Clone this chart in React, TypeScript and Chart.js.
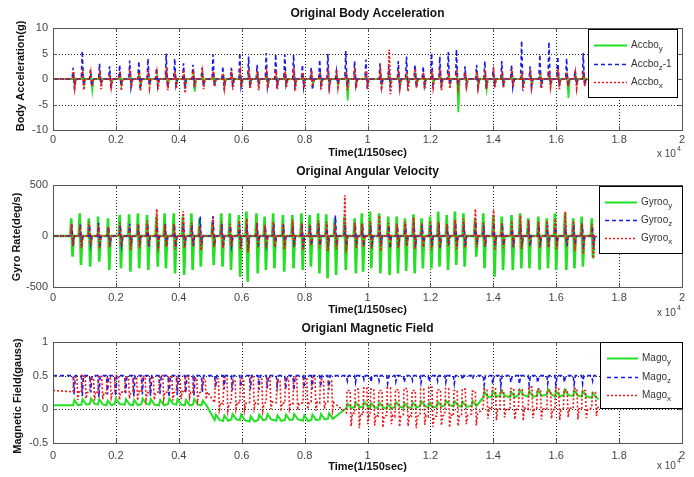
import React, { useEffect, useRef } from "react";
import { Chart, registerables } from "chart.js";
Chart.register(...registerables);

const FONT = '"Liberation Sans", Arial, Helvetica, sans-serif';
const GREEN = "#22e022";
const BLUE = "#1a1ae8";
const RED = "#f01818";

// shared x axis (x 10^4 samples)
const xTickValues = [0, 0.2, 0.4, 0.6, 0.8, 1, 1.2, 1.4, 1.6, 1.8, 2];
const xTickLabels = ["0", "0.2", "0.4", "0.6", "0.8", "1", "1.2", "1.4", "1.6", "1.8", "2"];

// ---------- Original Body Acceleration ----------
const accTicks = [-10, -5, 0, 5, 10];
const accTickLabels = ["-10", "-5", "0", "5", "10"];
const accTime = [0.064, 0.093, 0.119, 0.148, 0.180, 0.212, 0.244, 0.273, 0.302, 0.329,
  0.360, 0.387, 0.415, 0.445, 0.474, 0.509, 0.540, 0.567, 0.594, 0.622,
  0.649, 0.678, 0.708, 0.737, 0.765, 0.793, 0.821, 0.848, 0.874, 0.901,
  0.931, 0.959, 0.995, 1.040, 1.068, 1.098, 1.124, 1.151, 1.177, 1.204,
  1.230, 1.257, 1.283, 1.310, 1.347, 1.373, 1.400, 1.427, 1.458, 1.490,
  1.517, 1.548, 1.577, 1.605, 1.633, 1.660, 1.686];
const accYUp = [0.6, 0.9, 0.5, 0.8, 0.4, 0.7, 0.6, 0.9, 0.5, 0.7, 0.8, 0.6, 0.5, 0.9, 0.7, 0.4, 0.6, 0.8, 0.5, 0.7,
  0.9, 0.6, 0.5, 0.8, 0.7, 0.4, 0.6, 0.9, 0.5, 0.7, 0.8, 0.6, 0.5, 0.7, 0.9, 0.6, 0.5, 0.8, 0.4, 0.7,
  0.6, 0.9, 0.5, 0.7, 0.8, 0.6, 0.5, 0.7, 0.9, 0.6, 0.5, 0.8, 0.6, 0.7, 0.5, 0.6, 0.8];
const accYDown = [-0.8, -1.0, -2.2, -0.7, -0.9, -1.1, -0.8, -1.2, -0.9, -0.7, -1.0, -0.8, -1.1, -2.5, -0.9, -0.7, -1.0, -0.8, -1.2, -0.9,
  -0.7, -1.0, -0.8, -0.9, -1.1, -0.7, -1.0, -0.8, -0.9, -1.2, -4.2, -0.8, -1.0, -0.9, -0.7, -1.1, -0.8, -1.0, -0.9, -0.7,
  -1.0, -0.8, -6.5, -0.9, -1.1, -2.0, -0.8, -1.0, -0.7, -0.9, -1.1, -0.8, -1.0, -0.9, -3.7, -0.8, -0.7];
const accZUp = [2.2, 5.5, 1.8, 3.0, 2.5, 2.8, 3.6, 3.5, 4.0, 2.2, 5.0, 4.0, 3.1, 2.8, 2.2, 4.8, 2.5, 2.2, 5.1, 4.4,
  2.8, 5.1, 4.9, 4.8, 4.8, 2.8, 2.2, 3.8, 4.9, 1.5, 5.5, 3.5, 3.8, 3.1, 2.6, 3.5, 4.4, 2.8, 2.5, 5.1,
  4.4, 5.3, 5.8, 2.5, 2.8, 3.5, 2.2, 3.5, 2.8, 7.5, 2.5, 4.8, 7.3, 4.4, 4.1, 1.8, 5.1];
const accZDown = [-2.0, -1.2, -1.5, -1.0, -1.8, -1.3, -1.6, -2.0, -1.1, -1.4, -1.6, -1.2, -1.9, -1.0, -1.3, -1.5, -2.2, -1.1, -1.4, -1.7,
  -1.2, -1.5, -1.8, -1.1, -1.3, -1.6, -2.1, -1.2, -1.5, -1.0, -1.4, -1.3, -1.8, -2.0, -1.2, -1.5, -1.1, -1.7, -1.3, -1.0,
  -1.6, -1.2, -1.4, -1.1, -1.5, -1.8, -1.0, -1.3, -1.6, -1.2, -1.4, -1.7, -1.1, -1.3, -1.5, -1.0, -1.2];
const accXUp = [1.5, 2.0, 1.2, 1.8, 1.0, 1.6, 2.2, 1.4, 1.9, 1.2, 2.4, 1.5, 1.8, 2.0, 1.3, 1.6, 1.1, 1.8, 1.4, 2.0,
  1.6, 1.2, 1.9, 1.5, 2.1, 1.3, 1.7, 1.4, 1.2, 1.8, 1.5, 2.2, 1.6, 1.4, 5.8, 1.7, 1.5, 2.0, 1.3, 1.8,
  2.2, 1.6, 1.9, 1.2, 1.5, 1.8, 1.4, 1.6, 2.1, 1.5, 1.8, 1.3, 1.7, 2.0, 1.4, 1.2, 1.6];
const accXDown = [-1.8, -2.2, -1.5, -2.0, -1.6, -2.3, -1.8, -2.4, -1.7, -2.0, -2.2, -1.9, -2.8, -1.6, -2.0, -1.5, -1.8, -2.1, -1.6, -1.9,
  -2.2, -1.7, -2.0, -1.6, -2.4, -1.8, -1.5, -2.0, -1.7, -1.6, -2.2, -1.8, -2.0, -1.6, -3.0, -1.8, -2.5, -1.7, -2.0, -1.6,
  -2.2, -1.9, -1.8, -1.5, -1.7, -2.0, -1.6, -1.8, -1.5, -2.3, -1.7, -1.9, -1.6, -2.0, -1.5, -1.8, -1.4];
const accEnd = 1.70;

// ---------- Original Angular Velocity ----------
const gyroTicks = [-500, 0, 500];
const gyroTickLabels = ["-500", "0", "500"];
const gyroTime = [0.058, 0.085, 0.114, 0.143, 0.175, 0.212, 0.242, 0.270, 0.299, 0.329,
  0.355, 0.384, 0.413, 0.440, 0.466, 0.507, 0.535, 0.562, 0.591, 0.615,
  0.647, 0.673, 0.700, 0.731, 0.761, 0.790, 0.816, 0.843, 0.869, 0.896,
  0.927, 0.959, 0.982, 1.008, 1.037, 1.066, 1.093, 1.119, 1.146, 1.172,
  1.199, 1.225, 1.252, 1.278, 1.305, 1.342, 1.368, 1.400, 1.427, 1.458,
  1.485, 1.511, 1.543, 1.570, 1.596, 1.628, 1.654, 1.681, 1.713];
const gyroYUp = [173, 222, 173, 190, 173, 206, 212, 222, 206, 190, 222, 222, 190, 222, 173, 140, 222, 222, 206, 239,
  222, 190, 222, 206, 206, 222, 206, 222, 212, 173, 190, 173, 222, 239, 222, 190, 190, 173, 212, 173,
  190, 239, 206, 239, 222, 173, 222, 206, 190, 206, 222, 173, 190, 173, 222, 222, 173, 190, 173];
const gyroYDown = [-203, -284, -301, -252, -333, -317, -350, -317, -333, -301, -317, -366, -382, -333, -301, -284, -301, -333, -399, -448,
  -366, -333, -317, -350, -317, -333, -301, -366, -415, -382, -333, -366, -350, -317, -366, -382, -366, -343, -366, -317,
  -317, -301, -333, -284, -301, -203, -317, -399, -333, -333, -317, -317, -333, -317, -333, -333, -317, -301, -219];
const gyroZUp = [110, 120, 100, 130, 90, 110, 120, 100, 115, 95, 120, 105, 125, 110, 190, 195, 120, 100, 115, 110,
  125, 95, 120, 110, 105, 115, 100, 125, 110, 200, 115, 105, 120, 110, 120, 100, 95, 115, 125, 105,
  110, 120, 100, 130, 115, 140, 105, 120, 110, 100, 115, 125, 105, 110, 120, 100, 115, 105, 95];
const gyroZDown = [-90, -100, -80, -110, -95, -85, -100, -90, -105, -80, -95, -110, -90, -100, -85, -95, -110, -90, -100, -120,
  -95, -85, -105, -90, -100, -110, -85, -95, -100, -90, -105, -95, -100, -110, -95, -120, -100, -90, -105, -95,
  -100, -110, -90, -100, -95, -85, -105, -100, -90, -110, -95, -100, -90, -105, -95, -100, -90, -85, -80];
const gyroXUp = [120, 100, 140, 110, 90, 130, 100, 120, 150, 265, 110, 120, 245, 130, 100, 180, 140, 120, 150, 170,
  130, 110, 140, 120, 160, 130, 110, 150, 140, 120, 400, 130, 120, 150, 200, 130, 120, 140, 180, 130,
  150, 140, 120, 160, 170, 265, 140, 255, 130, 150, 200, 160, 140, 150, 170, 240, 150, 130, 120];
const gyroXDown = [-100, -120, -90, -130, -110, -100, -140, -120, -100, -150, -110, -130, -120, -100, -140, -110, -120, -100, -130, -160,
  -110, -120, -100, -130, -110, -140, -100, -120, -150, -130, -160, -120, -110, -130, -150, -110, -120, -100, -130, -110,
  -140, -120, -100, -130, -120, -110, -100, -140, -120, -110, -130, -100, -120, -110, -130, -100, -150, -180, -220];
const gyroEnd = 1.725;

// ---------- Origianl Magnetic Field ----------
const magTicks = [-0.5, 0, 0.5, 1];
const magTickLabels = ["-0.5", "0", "0.5", "1"];
const magTime = [0.064, 0.090, 0.117, 0.143, 0.170, 0.196, 0.228, 0.254, 0.281, 0.307,
  0.337, 0.366, 0.392, 0.419, 0.445, 0.472, 0.514, 0.541, 0.567, 0.594,
  0.625, 0.652, 0.678, 0.710, 0.737, 0.763, 0.795, 0.821, 0.848, 0.874,
  0.933, 0.959, 0.986, 1.008, 1.034, 1.061, 1.087, 1.114, 1.140, 1.167,
  1.193, 1.220, 1.246, 1.273, 1.299, 1.331, 1.368, 1.395, 1.421, 1.453,
  1.480, 1.511, 1.538, 1.570, 1.596, 1.623, 1.654, 1.681, 1.713];
const magZLevel = 0.5;
const magZDip = [0.22, 0.20, 0.25, 0.18, 0.22, 0.20, 0.24, 0.19, 0.22, 0.20, 0.23, 0.18, 0.21, 0.24, 0.20, 0.26,
  0.32, 0.30, 0.28, 0.33, 0.30, 0.29, 0.31, 0.34, 0.30, 0.28, 0.32, 0.30, 0.33, 0.29,
  0.42, 0.40, 0.44,
  0.40, 0.42, 0.38, 0.41, 0.40, 0.43, 0.39, 0.41, 0.42, 0.40, 0.38, 0.44, 0.45,
  0.36, 0.38, 0.35, 0.40, 0.37, 0.36, 0.39, 0.38, 0.36, 0.40, 0.37, 0.38, 0.42];
const magXStart = 0.28;
const magXBase = [0.26, 0.25, 0.27, 0.25, 0.24, 0.26, 0.25, 0.27, 0.25, 0.24, 0.26, 0.25, 0.27, 0.25, 0.24, 0.26,
  0.10, 0.08, 0.11, 0.09, 0.10, 0.08, 0.11, 0.10, 0.09, 0.08, 0.10, 0.11, 0.09, 0.10,
  -0.05, -0.06, -0.08,
  -0.08, -0.10, -0.09, -0.11, -0.08, -0.10, -0.09, -0.11, -0.10, -0.08, -0.10, -0.09, -0.07,
  0.02, 0.00, 0.01, -0.01, 0.02, 0.00, 0.01, 0.00, -0.01, 0.02, 0.01, 0.00, 0.02];
const magXHigh = [0.48, 0.50, 0.46, 0.49, 0.47, 0.50, 0.48, 0.46, 0.49, 0.47, 0.50, 0.48, 0.46, 0.49, 0.47, 0.45,
  0.45, 0.47, 0.44, 0.46, 0.48, 0.45, 0.47, 0.44, 0.46, 0.48, 0.45, 0.47, 0.44, 0.42,
  0.28, 0.30, 0.32,
  0.30, 0.28, 0.32, 0.29, 0.31, 0.28, 0.30, 0.33, 0.29, 0.31, 0.28, 0.30, 0.27,
  0.30, 0.32, 0.28, 0.31, 0.29, 0.33, 0.30, 0.28, 0.32, 0.29, 0.31, 0.28, 0.25];
const magXLow = [0.14, 0.16, 0.13, 0.15, 0.17, 0.14, 0.16, 0.13, 0.15, 0.14, 0.16, 0.13, 0.15, 0.17, 0.14, 0.15,
  0.00, -0.02, 0.01, -0.01, 0.02, -0.02, 0.00, -0.03, 0.01, -0.01, 0.00, -0.02, 0.01, -0.01,
  -0.25, -0.28, -0.22,
  -0.24, -0.27, -0.22, -0.26, -0.25, -0.28, -0.23, -0.26, -0.24, -0.27, -0.25, -0.22, -0.24,
  -0.14, -0.16, -0.12, -0.15, -0.17, -0.13, -0.15, -0.14, -0.16, -0.12, -0.15, -0.13, -0.10];
const magXEndValue = 0.05;
const magYStart = 0.06;
const magYBase = [0.06, 0.07, 0.08, 0.07, 0.06, 0.08, 0.07, 0.06, 0.08, 0.07, 0.06, 0.08, 0.07, 0.06, 0.07, 0.06,
  -0.16, -0.17, -0.15, -0.16, -0.18, -0.16, -0.15, -0.17, -0.16, -0.15, -0.17, -0.16, -0.15, -0.14,
  0.02, 0.03, 0.04,
  0.02, 0.03, 0.01, 0.04, 0.02, 0.03, 0.05, 0.03, 0.04, 0.06, 0.05, 0.04, 0.05,
  0.18, 0.19, 0.20, 0.18, 0.21, 0.19, 0.20, 0.22, 0.19, 0.21, 0.20, 0.19, 0.17];
const magYPeak = [0.14, 0.15, 0.16, 0.15, 0.13, 0.16, 0.15, 0.14, 0.16, 0.15, 0.14, 0.16, 0.15, 0.14, 0.15, 0.13,
  -0.08, -0.09, -0.07, -0.08, -0.10, -0.08, -0.07, -0.09, -0.08, -0.07, -0.09, -0.08, -0.07, -0.06,
  0.08, 0.10, 0.11,
  0.09, 0.10, 0.08, 0.11, 0.09, 0.10, 0.12, 0.10, 0.11, 0.13, 0.12, 0.11, 0.12,
  0.26, 0.27, 0.28, 0.26, 0.29, 0.27, 0.28, 0.30, 0.27, 0.29, 0.28, 0.27, 0.24];
const magYEndValue = 0.15;
const magEnd = 1.735;

type P = { x: number; y: number };

function spikeSeries(times: number[], ups: number[], downs: number[], shift: number, end: number): P[] {
  const pts: P[] = [{ x: 0, y: 0 }];
  times.forEach((t, i) => {
    const s = t + shift;
    pts.push({ x: s - 0.003, y: 0 }, { x: s, y: ups[i] }, { x: s + 0.004, y: downs[i] }, { x: s + 0.008, y: 0 });
  });
  pts.push({ x: end, y: 0 });
  return pts;
}

function dipSeries(times: number[], level: number, dips: number[], end: number): P[] {
  const pts: P[] = [{ x: 0, y: level }];
  times.forEach((t, i) => {
    pts.push({ x: t, y: level }, { x: t + 0.003, y: dips[i] }, { x: t + 0.007, y: level });
  });
  pts.push({ x: end, y: level });
  return pts;
}

function pulseSeries(times: number[], start: number, base: number[], high: number[], low: number[], endVal: number, end: number): P[] {
  const pts: P[] = [{ x: 0, y: start }];
  times.forEach((t, i) => {
    pts.push(
      { x: t, y: base[i] }, { x: t + 0.002, y: high[i] }, { x: t + 0.012, y: high[i] },
      { x: t + 0.015, y: low[i] }, { x: t + 0.019, y: base[i] }
    );
  });
  pts.push({ x: end, y: endVal });
  return pts;
}

function sawSeries(times: number[], start: number, base: number[], peak: number[], endVal: number, end: number): P[] {
  const pts: P[] = [{ x: 0, y: start }];
  times.forEach((t, i) => {
    pts.push({ x: t, y: base[i] }, { x: t + 0.004, y: peak[i] }, { x: t + 0.016, y: base[i] });
  });
  pts.push({ x: end, y: endVal });
  return pts;
}

type Entry = { color: string; dash: number[]; width: number; name: string; sub: string; suffix?: string; y: number };
type Deco = {
  title: string; titleY: number; ylabel: string; ylabelX: number; ylabelY: number; timeY: number; expY: number;
  legend: { x: number; y: number; w: number; h: number; lx1: number; lx2: number; tx: number; entries: Entry[] };
};

function decoPlugin(d: Deco) {
  return {
    id: "deco",
    beforeDatasetsDraw(chart: any) {
      const { ctx, chartArea: a, scales } = chart;
      ctx.save();
      ctx.strokeStyle = "#222";
      ctx.lineWidth = 1;
      ctx.setLineDash([1, 2]);
      const xs = scales.x, ys = scales.y;
      xs.ticks.forEach((tk: any) => {
        if (tk.value <= xs.min || tk.value >= xs.max) return;
        const px = Math.round(xs.getPixelForValue(tk.value)) + 0.5;
        ctx.beginPath(); ctx.moveTo(px, a.top); ctx.lineTo(px, a.bottom); ctx.stroke();
      });
      ys.ticks.forEach((tk: any) => {
        if (tk.value <= ys.min || tk.value >= ys.max) return;
        const py = Math.round(ys.getPixelForValue(tk.value)) + 0.5;
        ctx.beginPath(); ctx.moveTo(a.left, py); ctx.lineTo(a.right, py); ctx.stroke();
      });
      ctx.restore();
    },
    afterDatasetsDraw(chart: any) {
      const { ctx, chartArea: a, scales } = chart;
      ctx.save();
      ctx.setLineDash([]);
      ctx.strokeStyle = "#555";
      ctx.lineWidth = 1;
      ctx.strokeRect(Math.round(a.left) + 0.5, Math.round(a.top) + 0.5, Math.round(a.right - a.left), Math.round(a.bottom - a.top));
      const xs = scales.x, ys = scales.y;
      ctx.beginPath();
      xs.ticks.forEach((tk: any) => {
        const px = Math.round(xs.getPixelForValue(tk.value)) + 0.5;
        ctx.moveTo(px, a.bottom); ctx.lineTo(px, a.bottom - 4);
        ctx.moveTo(px, a.top); ctx.lineTo(px, a.top + 4);
      });
      ys.ticks.forEach((tk: any) => {
        const py = Math.round(ys.getPixelForValue(tk.value)) + 0.5;
        ctx.moveTo(a.left, py); ctx.lineTo(a.left + 4, py);
        ctx.moveTo(a.right, py); ctx.lineTo(a.right - 4, py);
      });
      ctx.stroke();

      const L = d.legend;
      ctx.fillStyle = "#fff";
      ctx.fillRect(L.x, L.y, L.w, L.h);
      ctx.strokeStyle = "#000";
      ctx.strokeRect(L.x + 0.5, L.y + 0.5, L.w, L.h);
      L.entries.forEach((e) => {
        ctx.save();
        ctx.strokeStyle = e.color;
        ctx.lineWidth = e.width;
        ctx.setLineDash(e.dash);
        ctx.beginPath(); ctx.moveTo(L.lx1, e.y + 0.5); ctx.lineTo(L.lx2, e.y + 0.5); ctx.stroke();
        ctx.restore();
        ctx.fillStyle = "#333";
        ctx.textAlign = "left";
        ctx.textBaseline = "middle";
        ctx.font = `10px ${FONT}`;
        ctx.fillText(e.name, L.tx, e.y);
        let cx = L.tx + ctx.measureText(e.name).width;
        ctx.font = `8px ${FONT}`;
        ctx.fillText(e.sub, cx, e.y + 4);
        cx += ctx.measureText(e.sub).width;
        if (e.suffix) {
          ctx.font = `10px ${FONT}`;
          ctx.fillText(e.suffix, cx, e.y);
        }
      });

      const cxm = (a.left + a.right) / 2;
      ctx.fillStyle = "#111";
      ctx.textAlign = "center";
      ctx.textBaseline = "middle";
      ctx.font = `bold 12px ${FONT}`;
      ctx.fillText(d.title, cxm, d.titleY);
      ctx.font = `bold 11px ${FONT}`;
      ctx.fillText("Time(1/150sec)", cxm, d.timeY);
      ctx.fillStyle = "#444";
      ctx.textAlign = "left";
      ctx.font = `10px ${FONT}`;
      ctx.fillText("x 10", 657, d.expY);
      const w = ctx.measureText("x 10").width;
      ctx.font = `7px ${FONT}`;
      ctx.fillText("4", 657 + w + 1, d.expY - 5);
      ctx.save();
      ctx.fillStyle = "#111";
      ctx.translate(d.ylabelX, d.ylabelY);
      ctx.rotate(-Math.PI / 2);
      ctx.textAlign = "center";
      ctx.font = `bold 11px ${FONT}`;
      ctx.fillText(d.ylabel, 0, 0);
      ctx.restore();
      ctx.restore();
    },
  };
}

function makeConfig(datasets: any[], yTicks: number[], yLabels: string[], padTop: number, xScaleH: number, xPad: number, deco: Deco): any {
  return {
    type: "line",
    data: { datasets },
    options: {
      responsive: false,
      animation: false,
      events: [],
      layout: { padding: { top: padTop, right: 12, bottom: 0, left: 0 }, autoPadding: false },
      plugins: { legend: { display: false }, title: { display: false }, tooltip: { enabled: false } },
      elements: { point: { radius: 0 }, line: { tension: 0 } },
      scales: {
        x: {
          type: "linear", min: 0, max: 2,
          grid: { display: false, drawTicks: false },
          border: { display: false },
          afterBuildTicks: (s: any) => { s.ticks = xTickValues.map((v) => ({ value: v })); },
          afterFit: (s: any) => { s.height = xScaleH; },
          ticks: {
            autoSkip: false, maxRotation: 0, minRotation: 0, padding: xPad, color: "#444",
            font: { family: FONT, size: 11 },
            callback: (_v: any, i: number) => xTickLabels[i],
          },
        },
        y: {
          type: "linear", min: yTicks[0], max: yTicks[yTicks.length - 1],
          grid: { display: false, drawTicks: false },
          border: { display: false },
          afterBuildTicks: (s: any) => { s.ticks = yTicks.map((v) => ({ value: v })); },
          afterFit: (s: any) => { s.width = 53; },
          ticks: {
            autoSkip: false, padding: 5, color: "#444",
            font: { family: FONT, size: 11 },
            callback: (_v: any, i: number) => yLabels[i],
          },
        },
      },
    },
    plugins: [decoPlugin(deco)],
  };
}

function ds(data: P[], color: string, width: number, dash: number[], order: number) {
  return { data, borderColor: color, borderWidth: width, borderDash: dash, fill: false, pointRadius: 0, order, tension: 0 };
}

const DASH_B = [4, 3];
const DOT_R = [2, 2];

export default function App() {
  const r1 = useRef<HTMLCanvasElement>(null);
  const r2 = useRef<HTMLCanvasElement>(null);
  const r3 = useRef<HTMLCanvasElement>(null);

  useEffect(() => {
    const c1 = new Chart(r1.current as HTMLCanvasElement, makeConfig(
      [
        ds(spikeSeries(accTime, accYUp, accYDown, 0.002, accEnd), GREEN, 1.8, [], 2),
        ds(spikeSeries(accTime, accZUp, accZDown, 0, accEnd), BLUE, 1.6, DASH_B, 1),
        ds(spikeSeries(accTime, accXUp, accXDown, 0.001, accEnd), RED, 1.8, DOT_R, 0),
      ],
      accTicks, accTickLabels, 28, 29, 3,
      {
        title: "Original Body Acceleration", titleY: 14, ylabel: "Body Acceleration(g)", ylabelX: 21, ylabelY: 76,
        timeY: 153, expY: 154,
        legend: {
          x: 588, y: 29, w: 89, h: 68, lx1: 594, lx2: 627, tx: 631,
          entries: [
            { color: GREEN, dash: [], width: 2, name: "Accbo", sub: "y", y: 45 },
            { color: BLUE, dash: DASH_B, width: 1.5, name: "Accbo", sub: "z", suffix: "-1", y: 64 },
            { color: RED, dash: DOT_R, width: 1.5, name: "Accbo", sub: "x", y: 82 },
          ],
        },
      }
    ));
    const c2 = new Chart(r2.current as HTMLCanvasElement, makeConfig(
      [
        ds(spikeSeries(gyroTime, gyroYUp, gyroYDown, 0, gyroEnd), GREEN, 2.6, [], 2),
        ds(spikeSeries(gyroTime, gyroZUp, gyroZDown, 0.002, gyroEnd), BLUE, 1.6, DASH_B, 1),
        ds(spikeSeries(gyroTime, gyroXUp, gyroXDown, 0.001, gyroEnd), RED, 1.8, DOT_R, 0),
      ],
      gyroTicks, gyroTickLabels, 26, 31, 4,
      {
        title: "Original Angular Velocity", titleY: 13, ylabel: "Gyro Rate(deg/s)", ylabelX: 17, ylabelY: 78,
        timeY: 151, expY: 154,
        legend: {
          x: 599, y: 27, w: 83, h: 67, lx1: 605, lx2: 637, tx: 641,
          entries: [
            { color: GREEN, dash: [], width: 2, name: "Gyroo", sub: "y", y: 43 },
            { color: BLUE, dash: DASH_B, width: 1.5, name: "Gyroo", sub: "z", y: 61 },
            { color: RED, dash: DOT_R, width: 1.5, name: "Gyroo", sub: "x", y: 79 },
          ],
        },
      }
    ));
    const c3 = new Chart(r3.current as HTMLCanvasElement, makeConfig(
      [
        ds(sawSeries(magTime, magYStart, magYBase, magYPeak, magYEndValue, magEnd), GREEN, 2, [], 2),
        ds(dipSeries(magTime, magZLevel, magZDip, magEnd), BLUE, 1.6, DASH_B, 1),
        ds(pulseSeries(magTime, magXStart, magXBase, magXHigh, magXLow, magXEndValue, magEnd), RED, 1.6, DOT_R, 0),
      ],
      magTicks, magTickLabels, 24, 34, 6,
      {
        title: "Origianl Magnetic Field", titleY: 11, ylabel: "Magnetic Field(gauss)", ylabelX: 18, ylabelY: 78,
        timeY: 149, expY: 148,
        legend: {
          x: 600, y: 24, w: 82, h: 66, lx1: 607, lx2: 638, tx: 642,
          entries: [
            { color: GREEN, dash: [], width: 2, name: "Mago", sub: "y", y: 40 },
            { color: BLUE, dash: DASH_B, width: 1.5, name: "Mago", sub: "z", y: 59 },
            { color: RED, dash: DOT_R, width: 1.5, name: "Mago", sub: "x", y: 77 },
          ],
        },
      }
    ));
    return () => { c1.destroy(); c2.destroy(); c3.destroy(); };
  }, []);

  const cs: React.CSSProperties = { position: "absolute", left: 0, display: "block" };
  return (
    <div style={{ position: "fixed", left: 0, top: 0, width: 694, height: 477, background: "#fff", overflow: "hidden" }}>
      <canvas ref={r1} width={694} height={159} style={{ ...cs, top: 0 }} />
      <canvas ref={r2} width={694} height={159} style={{ ...cs, top: 159 }} />
      <canvas ref={r3} width={694} height={159} style={{ ...cs, top: 318 }} />
    </div>
  );
}
